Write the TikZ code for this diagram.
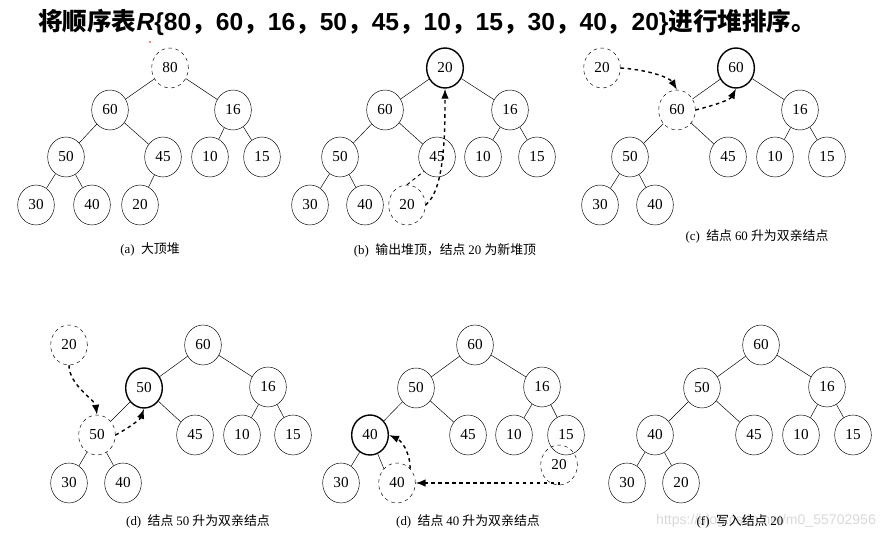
\documentclass[tikz,border=0pt]{standalone}
\usepackage{fontspec}
\setmainfont{Liberation Serif}
\newfontfamily\cjk{Noto Sans CJK SC}
\newfontfamily\titlefont{Liberation Sans}
\usetikzlibrary{arrows.meta,shapes.geometric}

\tikzset{
    nd/.style={ellipse, draw, thin, inner sep=0pt, minimum width=11mm, minimum height=12mm, font=\fontsize{13}{13}\selectfont},
    dnd/.style={nd, dashed},
    bnd/.style={nd, very thick},
    mv/.style={very thick, dashed, -{Latex[length=3mm]}},
    captxt/.style={font=\fontsize{11}{11}\selectfont}
}

\begin{document}
\begin{tikzpicture}[x=0.3mm, y=-0.3mm]
    \useasboundingbox (0,0) rectangle (885,540);

    % Title
    \node[anchor=west, font=\fontsize{21}{21}\selectfont\bfseries] (title) at (34,22)
        {\cjk 将顺序表\titlefont\textit{R}\{80\cjk ，\titlefont 60\cjk ，\titlefont 16\cjk ，\titlefont 50\cjk ，\titlefont 45\cjk ，\titlefont 10\cjk ，\titlefont 15\cjk ，\titlefont 30\cjk ，\titlefont 40\cjk ，\titlefont 20\}\cjk 进行堆排序。};
    \fill[red] (150,42) circle (0.8);

    % (a)
    \node[dnd] (a80) at (170,68) {80};
    \node[nd] (a60) at (110,110) {60};
    \node[nd] (a16) at (233,110) {16};
    \node[nd] (a50) at (66,157) {50};
    \node[nd] (a45) at (163,157) {45};
    \node[nd] (a10) at (210,157) {10};
    \node[nd] (a15) at (262,157) {15};
    \node[nd] (a30) at (36,205) {30};
    \node[nd] (a40) at (92,205) {40};
    \node[nd] (a20) at (140,205) {20};
    \draw (a80) -- (a60) (a80) -- (a16) (a60) -- (a50) (a60) -- (a45)
          (a16) -- (a10) (a16) -- (a15) (a50) -- (a30) (a50) -- (a40) (a45) -- (a20);
    \node[captxt] (ca) at (150,249) {(a)\ \ \cjk 大顶堆};

    % (b)
    \node[bnd] (b20) at (445,68) {20};
    \node[nd] (b60) at (385,110) {60};
    \node[nd] (b16) at (510,110) {16};
    \node[nd] (b50) at (340,157) {50};
    \node[nd] (b45) at (437,157) {45};
    \node[nd] (b10) at (483,157) {10};
    \node[nd] (b15) at (537,157) {15};
    \node[nd] (b30) at (310,205) {30};
    \node[nd] (b40) at (365,205) {40};
    \node[dnd] (b20d) at (407,205) {20};
    \draw (b20) -- (b60) (b20) -- (b16) (b60) -- (b50) (b60) -- (b45)
          (b16) -- (b10) (b16) -- (b15) (b50) -- (b30) (b50) -- (b40);
    \draw[dashed, thick] (b20d.north) -- (b45.south west);
    \draw[mv] (b20d.east) .. controls (445,190) and (445,130) .. (b20.south);
    \node[captxt] (cb) at (445,250) {(b)\ \ \cjk 输出堆顶，结点 \rmfamily 20 \cjk 为新堆顶};

    % (c)
    \node[dnd] (c20d) at (602,68) {20};
    \node[bnd] (c60) at (736,68) {60};
    \node[dnd] (c60d) at (677,110) {60};
    \node[nd] (c16) at (800,110) {16};
    \node[nd] (c50) at (630,157) {50};
    \node[nd] (c45) at (728,157) {45};
    \node[nd] (c10) at (775,157) {10};
    \node[nd] (c15) at (827,157) {15};
    \node[nd] (c30) at (600,205) {30};
    \node[nd] (c40) at (655,205) {40};
    \draw (c60) -- (c60d) (c60) -- (c16) (c60d) -- (c50) (c60d) -- (c45)
          (c16) -- (c10) (c16) -- (c15) (c50) -- (c30) (c50) -- (c40);
    \draw[mv] (c20d.east) .. controls (650,70) and (670,78) .. (c60d.north);
    \draw[mv] (c60d.east) .. controls (715,105) and (730,100) .. (c60.south);
    \node[captxt] (cc) at (757,236) {(c)\ \ \cjk 结点 \rmfamily 60 \cjk 升为双亲结点};

    % (d)
    \node[dnd] (d20d) at (69,345) {20};
    \node[nd] (d60) at (203,345) {60};
    \node[bnd] (d50) at (144,388) {50};
    \node[nd] (d16) at (268,387) {16};
    \node[dnd] (d50d) at (97,435) {50};
    \node[nd] (d45) at (195,435) {45};
    \node[nd] (d10) at (242,435) {10};
    \node[nd] (d15) at (293,435) {15};
    \node[nd] (d30) at (69,483) {30};
    \node[nd] (d40) at (123,483) {40};
    \draw (d60) -- (d50) (d60) -- (d16) (d50) -- (d50d) (d50) -- (d45)
          (d16) -- (d10) (d16) -- (d15) (d50d) -- (d30) (d50d) -- (d40);
    \draw[mv] (d20d.south) .. controls (69,385) and (95,400) .. (d50d.north);
    \draw[mv] (d50d.east) .. controls (125,430) and (140,420) .. (d50.south);
    \node[captxt] (cd) at (198,521) {(d)\ \ \cjk 结点 \rmfamily 50 \cjk 升为双亲结点};

    % (e)
    \node[nd] (e60) at (475,345) {60};
    \node[nd] (e50) at (416,388) {50};
    \node[nd] (e16) at (542,387) {16};
    \node[bnd] (e40) at (370,435) {40};
    \node[nd] (e45) at (468,435) {45};
    \node[nd] (e10) at (514,435) {10};
    \node[nd] (e15) at (566,435) {15};
    \node[dnd] (e20d) at (559,465) {20};
    \node[nd] (e30) at (341,483) {30};
    \node[dnd] (e40d) at (397,483) {40};
    \draw (e60) -- (e50) (e60) -- (e16) (e50) -- (e40) (e50) -- (e45)
          (e16) -- (e10) (e16) -- (e15) (e40) -- (e30) (e40d.north west) -- (e40);
    \draw[mv] (e20d.south) |- (e40d.east);
    \draw[mv] (e40d.north east) .. controls (410,450) and (400,440) .. (e40.east);
    \node[captxt] (ce) at (468,521) {(d)\ \ \cjk 结点 \rmfamily 40 \cjk 升为双亲结点};

    % (f)
    \node[nd] (f60) at (761,345) {60};
    \node[nd] (f50) at (702,388) {50};
    \node[nd] (f16) at (827,387) {16};
    \node[nd] (f40) at (655,435) {40};
    \node[nd] (f45) at (754,435) {45};
    \node[nd] (f10) at (801,435) {10};
    \node[nd] (f15) at (853,435) {15};
    \node[nd] (f30) at (627,483) {30};
    \node[nd] (f20) at (681,483) {20};
    \draw (f60) -- (f50) (f60) -- (f16) (f50) -- (f40) (f50) -- (f45)
          (f16) -- (f10) (f16) -- (f15) (f40) -- (f30) (f40) -- (f20);
    \node[font=\titlefont\fontsize{12}{12}\selectfont, text=gray!30, anchor=east] (wm) at (880,521)
        {https://blog.csdn.net/m0\_55702956};
    \node[captxt] (cf) at (740,521) {(f)\ \ \cjk 写入结点 \rmfamily 20};
\end{tikzpicture}
\end{document}
